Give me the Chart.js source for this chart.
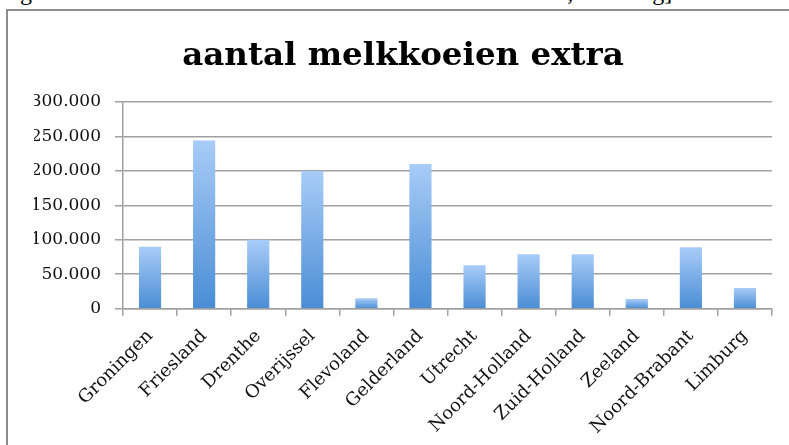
<!DOCTYPE html>
<html>
<head>
<meta charset="utf-8">
<script src="https://cdn.jsdelivr.net/npm/chart.js@4/dist/chart.umd.min.js"></script>
<style>
  html, body { margin: 0; padding: 0; background: #fff; overflow: hidden; }
  body { width: 789px; height: 445px; position: relative; }
  #caption {
    position: absolute; left: 0; top: -20px; white-space: nowrap;
    font-family: "Liberation Serif", serif; font-size: 24px; line-height: 24px; color: #000;
  }
  #frame {
    position: absolute; left: 6px; top: 9px; width: 820px; height: 460px;
    border-left: 2px solid #8c8c8c; border-top: 2px solid #8c8c8c;
  }
  #wrap { position: absolute; left: 8px; top: 11px; width: 790px; height: 442px; }
</style>
</head>
<body>
<div id="caption">Figuur 2. Maximaal aantal melkkoeien extra voor variant 2, ~ 100 kg]</div>
<div id="frame"></div>
<div id="wrap"><canvas id="myChart"></canvas></div>
<script>
const provincies = ["Groningen", "Friesland", "Drenthe", "Overijssel", "Flevoland", "Gelderland",
  "Utrecht", "Noord-Holland", "Zuid-Holland", "Zeeland", "Noord-Brabant", "Limburg"];
const koeien = [90000, 244000, 100000, 200000, 15000, 210000, 63000, 79000, 79000, 14000, 89000, 30000];
const yTicks = ["0", "50.000", "100.000", "150.000", "200.000", "250.000", "300.000"];

const gridKleur = "#a0a0a0";
const letter = "DejaVu Serif";

function balkKleur(context) {
  const chart = context.chart;
  const area = chart.chartArea;
  if (!area || !context.parsed) return "#7aaee8";
  const y = chart.scales.y;
  const top = y.getPixelForValue(context.parsed.y);
  const bottom = y.getPixelForValue(0);
  const grad = chart.ctx.createLinearGradient(0, top, 0, bottom);
  grad.addColorStop(0, "#a8ccf7");
  grad.addColorStop(1, "#4a8dd5");
  return grad;
}

const ctx = document.getElementById("myChart").getContext("2d");
const myChart = new Chart(ctx, {
  type: "bar",
  data: {
    labels: provincies,
    datasets: [
      {
        label: "aantal melkkoeien extra",
        data: koeien,
        backgroundColor: balkKleur,
        borderWidth: 0,
        barPercentage: 0.41,
        categoryPercentage: 1,
      },
    ],
  },
  options: {
    responsive: true,
    maintainAspectRatio: false,
    animation: false,
    layout: { padding: { left: 26, right: 26, top: 0, bottom: 5 } },
    plugins: {
      legend: { display: false },
      tooltip: { enabled: false },
      title: {
        display: true,
        text: "aantal melkkoeien extra",
        color: "#000",
        font: { family: letter, size: 32.5, weight: "bold" },
        padding: { top: 26, bottom: 26 },
      },
    },
    scales: {
      x: {
        grid: {
          offset: true,
          drawOnChartArea: false,
          color: gridKleur,
          lineWidth: 1.5,
          tickLength: 7,
        },
        border: { color: gridKleur, width: 1.5 },
        ticks: {
          color: "#111",
          font: { family: letter, size: 18 },
          minRotation: 45,
          maxRotation: 45,
          padding: 10,
        },
      },
      y: {
        min: 0,
        max: 300000,
        afterFit: (scale) => { scale.width = 89; },
        grid: { color: gridKleur, lineWidth: 1.5, tickLength: 8 },
        border: { color: gridKleur, width: 1.5 },
        ticks: {
          stepSize: 50000,
          color: "#111",
          font: { family: letter, size: 17 },
          padding: 14,
          callback: (value, index) => yTicks[index],
        },
      },
    },
  },
});
</script>
</body>
</html>
